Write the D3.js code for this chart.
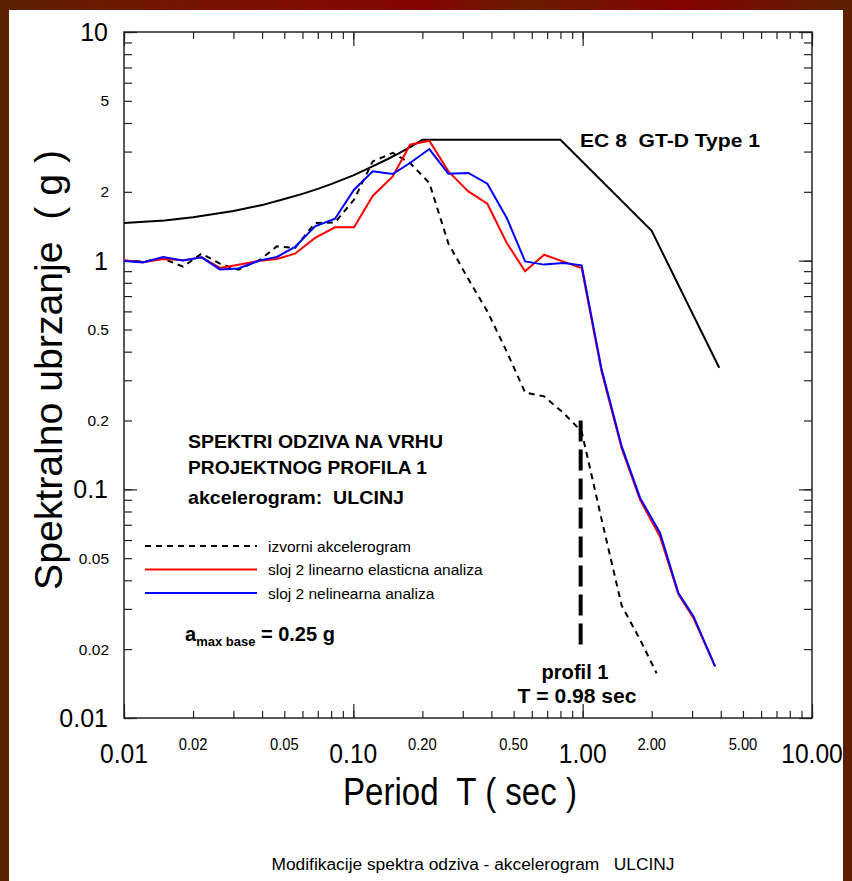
<!DOCTYPE html>
<html>
<head>
<meta charset="utf-8">
<script src="https://cdn.jsdelivr.net/npm/d3@7"></script>
<style>
  body { margin: 0; background: #fff; }
  text { font-family: "Liberation Sans", Arial, sans-serif; fill: #000; white-space: pre; }
</style>
</head>
<body>
<div id="container"></div>
<script>
// periods shared by the two layer-2 analyses
const periods = [0.01, 0.0121, 0.0148, 0.0181, 0.0218, 0.0262, 0.0315, 0.0392, 0.0464, 0.0557,
  0.0681, 0.0832, 0.1007, 0.1215, 0.1485, 0.1767, 0.2145, 0.2596, 0.3173, 0.384,
  0.4667, 0.561, 0.679, 0.824, 0.99, 1.21, 1.48, 1.78, 2.175, 2.615, 3.04, 3.78];

const linearno = [1.003, 0.985, 1.017, 1.003, 1.034, 0.929, 0.959, 1.0, 1.017, 1.073,
  1.257, 1.399, 1.399, 1.918, 2.335, 3.213, 3.346, 2.457, 2.009, 1.775,
  1.195, 0.898, 1.062, 0.99, 0.929, 0.327, 0.151, 0.09, 0.062, 0.0347, 0.0274, 0.0168];

const nelinearno = [0.997, 0.983, 1.038, 1.003, 1.034, 0.916, 0.925, 1.003, 1.038, 1.148,
  1.413, 1.526, 2.044, 2.458, 2.394, 2.674, 3.078, 2.40, 2.418, 2.171,
  1.537, 0.993, 0.961, 0.977, 0.954, 0.334, 0.154, 0.0917, 0.0645, 0.0352, 0.0279, 0.01683];

// source accelerogram
const izvorniT = [0.01, 0.0121, 0.0148, 0.0181, 0.0218, 0.0262, 0.0315, 0.0392, 0.0464, 0.0557,
  0.0681, 0.0832, 0.1007, 0.1215, 0.1485, 0.1767, 0.2145, 0.2596, 0.3173, 0.384,
  0.4667, 0.561, 0.679, 0.824, 0.99, 1.21, 1.48, 1.78, 2.1];
const izvorniS = [1.0, 0.99, 1.02, 0.942, 1.073, 0.97, 0.913, 1.01, 1.155, 1.137,
  1.462, 1.47, 1.848, 2.717, 2.959, 2.674, 2.187, 1.19, 0.831, 0.6,
  0.4, 0.265, 0.255, 0.216, 0.179, 0.0737, 0.031, 0.022, 0.0157];

// EC 8 GT-D Type 1 design spectrum
const ecT = [0.01, 0.015, 0.02, 0.03, 0.04, 0.05, 0.06, 0.07, 0.08, 0.1, 0.12, 0.14, 0.16, 0.18, 0.2, 0.8, 2.0, 3.94];
const ecS = [1.46, 1.50, 1.55, 1.65, 1.75, 1.86, 1.96, 2.06, 2.16, 2.36, 2.57, 2.77, 2.97, 3.17, 3.38, 3.38, 1.35, 0.34];

const profilT = 0.98;
const profilS = [0.0195, 0.2];

const xBig = [0.01, 0.1, 1, 10];
const xBigLabels = ["0.01", "0.10", "1.00", "10.00"];
const xSmall = [0.02, 0.05, 0.2, 0.5, 2, 5];
const xSmallLabels = ["0.02", "0.05", "0.20", "0.50", "2.00", "5.00"];
const yBig = [10, 1, 0.1, 0.01];
const yBigLabels = ["10", "1", "0.1", "0.01"];
const ySmall = [5, 2, 0.5, 0.2, 0.05, 0.02];
const ySmallLabels = ["5", "2", "0.5", "0.2", "0.05", "0.02"];

const W = 852, H = 881;
const pLeft = 124, pRight = 812, pTop = 32, pBottom = 718;

const svg = d3.select("#container").append("svg")
  .attr("width", W).attr("height", H);

// dark red frame round the page
const grad = svg.append("defs").append("linearGradient").attr("id", "frame");
[["0", "#5a2200"], ["0.12", "#6c1a00"], ["0.3", "#7c1000"], ["0.5", "#820600"],
 ["0.62", "#6a1c00"], ["0.8", "#830400"], ["1", "#5c2000"]].forEach(s =>
  grad.append("stop").attr("offset", s[0]).attr("stop-color", s[1]));
svg.append("rect").attr("width", W).attr("height", H).attr("fill", "url(#frame)");
svg.append("rect").attr("x", 9).attr("y", 10).attr("width", 834).attr("height", H - 10).attr("fill", "#fff");

const x = d3.scaleLog().domain([0.01, 10]).range([pLeft, pRight]);
const y = d3.scaleLog().domain([0.01, 10]).range([pBottom, pTop]);

const minorX = x.ticks();
const minorY = y.ticks();

function ticks(axisFn, scale, vals, size, tr) {
  svg.append("g").attr("transform", tr)
    .call(axisFn(scale).tickValues(vals).tickSize(size).tickFormat(""))
    .call(g => g.select(".domain").remove())
    .call(g => g.selectAll("line").attr("stroke", "#222").attr("stroke-width", 1.2));
}
ticks(d3.axisBottom, x, minorX, -7, `translate(0,${pBottom})`);
ticks(d3.axisBottom, x, xBig, -14, `translate(0,${pBottom})`);
ticks(d3.axisTop, x, minorX, -7, `translate(0,${pTop})`);
ticks(d3.axisTop, x, xBig, -14, `translate(0,${pTop})`);
ticks(d3.axisLeft, y, minorY, -8, `translate(${pLeft},0)`);
ticks(d3.axisLeft, y, yBig, -13, `translate(${pLeft},0)`);
ticks(d3.axisRight, y, minorY, -8, `translate(${pRight},0)`);
ticks(d3.axisRight, y, yBig, -13, `translate(${pRight},0)`);

svg.append("rect")
  .attr("x", pLeft).attr("y", pTop)
  .attr("width", pRight - pLeft).attr("height", pBottom - pTop)
  .attr("fill", "none").attr("stroke", "#222").attr("stroke-width", 1.5);

// tick labels (x labels are condensed in the original)
svg.selectAll(".xb").data(xBig).enter().append("text")
  .attr("transform", d => `translate(${x(d)},763) scale(0.88,1)`)
  .attr("text-anchor", "middle").attr("font-size", 28)
  .text((d, i) => xBigLabels[i]);
svg.selectAll(".xs").data(xSmall).enter().append("text")
  .attr("transform", d => `translate(${x(d)},750) scale(0.92,1)`)
  .attr("text-anchor", "middle").attr("font-size", 16)
  .text((d, i) => xSmallLabels[i]);
svg.selectAll(".yb").data(yBig).enter().append("text")
  .attr("x", 108).attr("y", d => y(d) + 9)
  .attr("text-anchor", "end").attr("font-size", 25)
  .text((d, i) => yBigLabels[i]);
svg.selectAll(".ys").data(ySmall).enter().append("text")
  .attr("x", 109).attr("y", d => y(d) + 5.5)
  .attr("text-anchor", "end").attr("font-size", 15.5)
  .text((d, i) => ySmallLabels[i]);

// axis titles
svg.append("text")
  .attr("x", 460).attr("y", 805).attr("text-anchor", "middle").attr("font-size", 38)
  .attr("textLength", 234).attr("lengthAdjust", "spacingAndGlyphs")
  .text("Period  T ( sec )");
svg.append("text")
  .attr("transform", "translate(62,370) rotate(-90)")
  .attr("text-anchor", "middle").attr("font-size", 38)
  .attr("textLength", 440).attr("lengthAdjust", "spacingAndGlyphs")
  .text("Spektralno ubrzanje  ( g )");
svg.append("text")
  .attr("x", 473).attr("y", 870).attr("text-anchor", "middle").attr("font-size", 16)
  .attr("textLength", 403).attr("lengthAdjust", "spacingAndGlyphs")
  .text("Modifikacije spektra odziva - akcelerogram   ULCINJ");

// curves
const line = (ts, ss) => d3.line().x((d, i) => x(ts[i])).y((d, i) => y(ss[i]))(ss);

svg.append("path").attr("d", line(ecT, ecS))
  .attr("fill", "none").attr("stroke", "#000").attr("stroke-width", 2);
svg.append("path").attr("d", line(izvorniT, izvorniS))
  .attr("fill", "none").attr("stroke", "#000").attr("stroke-width", 2)
  .attr("stroke-dasharray", "6,5");
svg.append("path").attr("d", line(periods, linearno))
  .attr("fill", "none").attr("stroke", "#ff0000").attr("stroke-width", 2);
svg.append("path").attr("d", line(periods, nelinearno))
  .attr("fill", "none").attr("stroke", "#0000ff").attr("stroke-width", 2);

// profile period marker
svg.append("line")
  .attr("x1", x(profilT)).attr("x2", x(profilT))
  .attr("y1", y(profilS[1])).attr("y2", y(profilS[0]))
  .attr("stroke", "#000").attr("stroke-width", 4).attr("stroke-dasharray", "21,8");

// annotations
const bold = (tx, ty, size, str, len, anchor) => svg.append("text")
  .attr("x", tx).attr("y", ty).attr("font-size", size).attr("font-weight", "bold")
  .attr("textLength", len).attr("lengthAdjust", "spacingAndGlyphs")
  .attr("text-anchor", anchor || "start").text(str);

bold(580, 147, 18.5, "EC 8  GT-D Type 1", 180);
bold(188, 448, 18.5, "SPEKTRI ODZIVA NA VRHU", 255);
bold(188, 474, 18.5, "PROJEKTNOG PROFILA 1", 239);
bold(188, 504, 18.5, "akcelerogram:  ULCINJ", 216);
bold(575, 679, 20, "profil 1", 67, "middle");
bold(577, 703, 20, "T = 0.98 sec", 119, "middle");

const amax = svg.append("text").attr("x", 185).attr("y", 641)
  .attr("font-weight", "bold").attr("font-size", 20);
amax.append("tspan").text("a");
amax.append("tspan").attr("font-size", 13).attr("dy", 5).text("max base");
amax.append("tspan").attr("dy", -5).text(" = 0.25 g");

// legend
const legend = [
  { label: "izvorni akcelerogram", color: "#000", dash: "6,5" },
  { label: "sloj 2 linearno elasticna analiza", color: "#ff0000", dash: null },
  { label: "sloj 2 nelinearna analiza", color: "#0000ff", dash: null }
];
legend.forEach((d, i) => {
  const ly = 546 + i * 23.5;
  svg.append("line").attr("x1", 145).attr("x2", 257).attr("y1", ly).attr("y2", ly)
    .attr("stroke", d.color).attr("stroke-width", 2)
    .attr("stroke-dasharray", d.dash);
  svg.append("text").attr("x", 268).attr("y", ly + 5.5).attr("font-size", 15.5).text(d.label);
});
</script>
</body>
</html>
